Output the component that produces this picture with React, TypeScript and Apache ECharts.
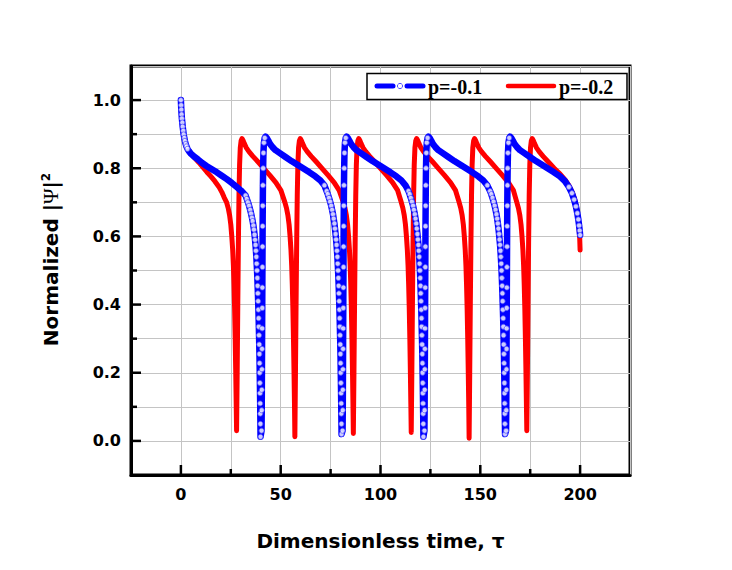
import React, { useEffect, useRef } from "react";
import * as echarts from "echarts";

// p = -0.1 (blue, line + hollow circles), [tau, |psi|^2]
const blueP01: [number, number][] = [
  [0, 1.0], [0.1, 0.985], [0.2, 0.972], [0.35, 0.958], [0.5, 0.946], [0.7, 0.934], [0.9, 0.922], [1.15, 0.91], [1.4, 0.899], [1.7, 0.889], [2.0, 0.88], [2.4, 0.871], [2.8, 0.864], [3.3, 0.857], [4.0, 0.85], [5.0, 0.843], [6.5, 0.835], [8.5, 0.826], [10.5, 0.816], [13.0, 0.806], [15.5, 0.797], [18.0, 0.788], [20.5, 0.778], [23.0, 0.768], [25.5, 0.757], [28.0, 0.745], [30.0, 0.735], [31.2, 0.728],
  [32.4, 0.72], [33.0, 0.71], [33.6, 0.7], [34.15, 0.69], [34.7, 0.678], [35.15, 0.667], [35.6, 0.655], [35.95, 0.645], [36.3, 0.632], [36.6, 0.62], [36.9, 0.605], [37.15, 0.59], [37.4, 0.575], [37.6, 0.558], [37.8, 0.54], [37.98, 0.52], [38.15, 0.5], [38.3, 0.478], [38.45, 0.455], [38.58, 0.433], [38.7, 0.41], [38.83, 0.385], [38.95, 0.36], [39.05, 0.335], [39.15, 0.31], [39.25, 0.283], [39.35, 0.255], [39.43, 0.228], [39.5, 0.2], [39.58, 0.17], [39.65, 0.14], [39.72, 0.11], [39.78, 0.08], [39.84, 0.05], [39.9, 0.012],
  [40.4, 0.03], [40.5, 0.09], [40.55, 0.15], [40.6, 0.21], [40.65, 0.27], [40.7, 0.33], [40.75, 0.39], [40.8, 0.45], [40.85, 0.51], [40.9, 0.57], [40.95, 0.63], [41.02, 0.69], [41.1, 0.75], [41.2, 0.8], [41.35, 0.845], [41.6, 0.875], [42.0, 0.889], [42.4, 0.893],
  [43.0, 0.889], [43.7, 0.882], [44.6, 0.872], [45.9, 0.862], [47.4, 0.853], [49.4, 0.845], [52.4, 0.833], [55.4, 0.821], [58.4, 0.81], [61.4, 0.799], [64.4, 0.788], [67.4, 0.776], [69.9, 0.764], [71.9, 0.75],
  [73.0, 0.733], [73.6, 0.724], [74.2, 0.713], [74.75, 0.702], [75.3, 0.69], [75.75, 0.678], [76.2, 0.665], [76.55, 0.652], [76.9, 0.638], [77.2, 0.623], [77.5, 0.607], [77.75, 0.591], [78.0, 0.575], [78.2, 0.558], [78.4, 0.54], [78.58, 0.52], [78.75, 0.5], [78.9, 0.478], [79.05, 0.455], [79.18, 0.433], [79.3, 0.41], [79.43, 0.385], [79.55, 0.36], [79.65, 0.335], [79.75, 0.31], [79.85, 0.283], [79.95, 0.255], [80.03, 0.228], [80.1, 0.2], [80.18, 0.17], [80.25, 0.14], [80.32, 0.11], [80.38, 0.08], [80.44, 0.05], [80.5, 0.02],
  [81.0, 0.03], [81.1, 0.09], [81.15, 0.15], [81.2, 0.21], [81.25, 0.27], [81.3, 0.33], [81.35, 0.39], [81.4, 0.45], [81.45, 0.51], [81.5, 0.57], [81.55, 0.63], [81.62, 0.69], [81.7, 0.75], [81.8, 0.8], [81.95, 0.845], [82.2, 0.875], [82.6, 0.889], [83.0, 0.893],
  [83.6, 0.889], [84.3, 0.882], [85.2, 0.872], [86.5, 0.862], [88.0, 0.853], [90.0, 0.845], [93.0, 0.833], [96.0, 0.821], [99.0, 0.81], [102.0, 0.799], [105.0, 0.788], [108.0, 0.776], [110.5, 0.764], [112.5, 0.75],
  [114.0, 0.733], [114.6, 0.724], [115.2, 0.713], [115.75, 0.702], [116.3, 0.69], [116.75, 0.678], [117.2, 0.665], [117.55, 0.652], [117.9, 0.638], [118.2, 0.623], [118.5, 0.607], [118.75, 0.591], [119.0, 0.575], [119.2, 0.558], [119.4, 0.54], [119.58, 0.52], [119.75, 0.5], [119.9, 0.478], [120.05, 0.455], [120.18, 0.433], [120.3, 0.41], [120.43, 0.385], [120.55, 0.36], [120.65, 0.335], [120.75, 0.31], [120.85, 0.283], [120.95, 0.255], [121.03, 0.228], [121.1, 0.2], [121.18, 0.17], [121.25, 0.14], [121.32, 0.11], [121.38, 0.08], [121.44, 0.05], [121.5, 0.012],
  [122.0, 0.03], [122.1, 0.09], [122.15, 0.15], [122.2, 0.21], [122.25, 0.27], [122.3, 0.33], [122.35, 0.39], [122.4, 0.45], [122.45, 0.51], [122.5, 0.57], [122.55, 0.63], [122.62, 0.69], [122.7, 0.75], [122.8, 0.8], [122.95, 0.845], [123.2, 0.875], [123.6, 0.889], [124.0, 0.893],
  [124.6, 0.889], [125.3, 0.882], [126.2, 0.872], [127.5, 0.862], [129.0, 0.853], [131.0, 0.845], [134.0, 0.833], [137.0, 0.821], [140.0, 0.81], [143.0, 0.799], [146.0, 0.788], [149.0, 0.776], [151.5, 0.764], [153.5, 0.75],
  [154.9, 0.733], [155.5, 0.724], [156.1, 0.713], [156.65, 0.702], [157.2, 0.69], [157.65, 0.678], [158.1, 0.665], [158.45, 0.652], [158.8, 0.638], [159.1, 0.623], [159.4, 0.607], [159.65, 0.591], [159.9, 0.575], [160.1, 0.558], [160.3, 0.54], [160.48, 0.52], [160.65, 0.5], [160.8, 0.478], [160.95, 0.455], [161.08, 0.433], [161.2, 0.41], [161.33, 0.385], [161.45, 0.36], [161.55, 0.335], [161.65, 0.31], [161.75, 0.283], [161.85, 0.255], [161.93, 0.228], [162.0, 0.2], [162.08, 0.17], [162.15, 0.14], [162.22, 0.11], [162.28, 0.08], [162.34, 0.05], [162.4, 0.02],
  [162.9, 0.03], [163.0, 0.09], [163.05, 0.15], [163.1, 0.21], [163.15, 0.27], [163.2, 0.33], [163.25, 0.39], [163.3, 0.45], [163.35, 0.51], [163.4, 0.57], [163.45, 0.63], [163.52, 0.69], [163.6, 0.75], [163.7, 0.8], [163.85, 0.845], [164.1, 0.875], [164.5, 0.889], [164.9, 0.893],
  [165.5, 0.889], [166.2, 0.882], [167.1, 0.872], [168.4, 0.862], [169.9, 0.853], [171.9, 0.845], [174.9, 0.833], [177.9, 0.821], [180.9, 0.81], [183.9, 0.799], [186.9, 0.788], [189.9, 0.776], [192.4, 0.762], [194.4, 0.745], [195.9, 0.727], [197.0, 0.708], [197.9, 0.688], [198.6, 0.668], [199.1, 0.65], [199.5, 0.632], [199.8, 0.617], [200.0, 0.604],
];

// p = -0.2 (red line), [tau, |psi|^2]
const redP02: [number, number][] = [
  [0, 1.0], [0.3, 0.968], [0.7, 0.935], [1.2, 0.905], [1.8, 0.882], [2.5, 0.866], [3.5, 0.855], [5.0, 0.843], [7.0, 0.83], [9.0, 0.817], [11.0, 0.803], [13.0, 0.789], [15.0, 0.776], [17.0, 0.762], [19.0, 0.746], [20.5, 0.73], [21.7, 0.714],
  [22.9, 0.7], [23.7, 0.683], [24.4, 0.662], [25.0, 0.635], [25.5, 0.6], [25.95, 0.56], [26.3, 0.515], [26.6, 0.46], [26.9, 0.39], [27.2, 0.3], [27.45, 0.21], [27.7, 0.11], [27.9, 0.03],
  [28.2, 0.2], [28.5, 0.4], [28.8, 0.58], [29.1, 0.72], [29.4, 0.81], [29.75, 0.86], [30.15, 0.88], [30.6, 0.887],
  [31.1, 0.882], [31.8, 0.872], [32.8, 0.86], [34.1, 0.849], [36.1, 0.835], [38.6, 0.819], [41.6, 0.799], [44.6, 0.779], [47.6, 0.758], [50.1, 0.735],
  [52.1, 0.7], [52.9, 0.683], [53.6, 0.662], [54.2, 0.635], [54.7, 0.6], [55.15, 0.56], [55.5, 0.515], [55.8, 0.46], [56.1, 0.39], [56.4, 0.3], [56.65, 0.21], [56.9, 0.11], [57.1, 0.012],
  [57.4, 0.2], [57.7, 0.4], [58.0, 0.58], [58.3, 0.72], [58.6, 0.81], [58.95, 0.86], [59.35, 0.88], [59.8, 0.887],
  [60.3, 0.882], [61.0, 0.872], [62.0, 0.86], [63.3, 0.849], [65.3, 0.835], [67.8, 0.819], [70.8, 0.799], [73.8, 0.779], [76.8, 0.758], [79.3, 0.735],
  [81.4, 0.7], [82.2, 0.683], [82.9, 0.662], [83.5, 0.635], [84.0, 0.6], [84.45, 0.56], [84.8, 0.515], [85.1, 0.46], [85.4, 0.39], [85.7, 0.3], [85.95, 0.21], [86.2, 0.11], [86.4, 0.022],
  [86.7, 0.2], [87.0, 0.4], [87.3, 0.58], [87.6, 0.72], [87.9, 0.81], [88.25, 0.86], [88.65, 0.88], [89.1, 0.887],
  [89.6, 0.882], [90.3, 0.872], [91.3, 0.86], [92.6, 0.849], [94.6, 0.835], [97.1, 0.819], [100.1, 0.799], [103.1, 0.779], [106.1, 0.758], [108.6, 0.735],
  [110.4, 0.7], [111.2, 0.683], [111.9, 0.662], [112.5, 0.635], [113.0, 0.6], [113.45, 0.56], [113.8, 0.515], [114.1, 0.46], [114.4, 0.39], [114.7, 0.3], [114.95, 0.21], [115.2, 0.11], [115.4, 0.025],
  [115.7, 0.2], [116.0, 0.4], [116.3, 0.58], [116.6, 0.72], [116.9, 0.81], [117.25, 0.86], [117.65, 0.88], [118.1, 0.887],
  [118.6, 0.882], [119.3, 0.872], [120.3, 0.86], [121.6, 0.849], [123.6, 0.835], [126.1, 0.819], [129.1, 0.799], [132.1, 0.779], [135.1, 0.758], [137.6, 0.735],
  [139.4, 0.7], [140.2, 0.683], [140.9, 0.662], [141.5, 0.635], [142.0, 0.6], [142.45, 0.56], [142.8, 0.515], [143.1, 0.46], [143.4, 0.39], [143.7, 0.3], [143.95, 0.21], [144.2, 0.11], [144.4, 0.008],
  [144.7, 0.2], [145.0, 0.4], [145.3, 0.58], [145.6, 0.72], [145.9, 0.81], [146.25, 0.86], [146.65, 0.88], [147.1, 0.887],
  [147.6, 0.882], [148.3, 0.872], [149.3, 0.86], [150.6, 0.849], [152.6, 0.835], [155.1, 0.819], [158.1, 0.799], [161.1, 0.779], [164.1, 0.758], [166.6, 0.735],
  [168.3, 0.7], [169.1, 0.683], [169.8, 0.662], [170.4, 0.635], [170.9, 0.6], [171.35, 0.56], [171.7, 0.515], [172.0, 0.46], [172.3, 0.39], [172.6, 0.3], [172.85, 0.21], [173.1, 0.11], [173.3, 0.03],
  [173.6, 0.2], [173.9, 0.4], [174.2, 0.58], [174.5, 0.72], [174.8, 0.81], [175.15, 0.86], [175.55, 0.88], [176.0, 0.887],
  [176.5, 0.882], [177.2, 0.872], [178.2, 0.86], [179.5, 0.849], [181.5, 0.835], [184.0, 0.819], [187.0, 0.8], [190.0, 0.783], [192.5, 0.766], [194.5, 0.748], [196.0, 0.73], [197.2, 0.71], [198.2, 0.685], [199.0, 0.655], [199.5, 0.625], [199.8, 0.595], [200.0, 0.56],
];

const X_MIN = -25;
const X_MAX = 225;
const Y_MIN = -0.1;
const Y_MAX = 1.1;
const xMajorTicks = [0, 50, 100, 150, 200];
const xMinorTicks = [25, 75, 125, 175];
const yMajorTicks = [0, 0.2, 0.4, 0.6, 0.8, 1.0];
const yMinorTicks = [0.1, 0.3, 0.5, 0.7, 0.9];
const seriesNames = ["p=-0.1", "p=-0.2"];
const xTitle = "Dimensionless time, \u03c4";

const BLUE = "#0000ff";
const RED = "#ff0000";
const RING = "#5050ff";
const GRIDC = "#c4c4c4";
const SANS = "DejaVu Sans";
const SERIF = "Liberation Serif";
const MAJOR_LEN = 10;
const MINOR_LEN = 6;

// circles are shown where the blue curve is steep (where they appear separated in the figure)
const blueMarkers = blueP01.filter((p, i) => {
  const prev = blueP01[i - 1];
  const next = blueP01[i + 1];
  const s1 = prev ? Math.abs((p[1] - prev[1]) / (p[0] - prev[0])) : 0;
  const s2 = next ? Math.abs((next[1] - p[1]) / (next[0] - p[0])) : 0;
  return Math.max(s1, s2) > 0.012;
});

// inward tick marks: [value, length, axis (0 = x, 1 = y)]
const tickData: [number, number, number][] = [
  ...xMajorTicks.map((v) => [v, MAJOR_LEN, 0] as [number, number, number]),
  ...xMinorTicks.map((v) => [v, MINOR_LEN, 0] as [number, number, number]),
  ...yMajorTicks.map((v) => [v, MAJOR_LEN, 1] as [number, number, number]),
  ...yMinorTicks.map((v) => [v, MINOR_LEN, 1] as [number, number, number]),
];

export default function App() {
  const ref = useRef<HTMLDivElement>(null);
  useEffect(() => {
    if (!ref.current) return;
    const chart = echarts.init(ref.current, undefined, { renderer: "svg" });
    const labelStyle = { fontFamily: SANS, fontWeight: "bold" as const, fontSize: 16, color: "#000" };
    chart.setOption({
      animation: false,
      backgroundColor: "#ffffff",
      grid: {
        left: 131,
        right: 102,
        top: 66,
        bottom: 95,
        show: true,
        borderColor: "#000",
        borderWidth: 3,
        backgroundColor: "transparent",
      },
      xAxis: {
        type: "value",
        position: "bottom",
        min: X_MIN,
        max: X_MAX,
        interval: 25,
        axisLine: { show: true, onZero: false, lineStyle: { color: "#000", width: 3 } },
        axisTick: { show: false },
        axisLabel: { ...labelStyle, margin: 11, customValues: xMajorTicks, formatter: (v: number) => String(v) },
        splitLine: { show: true, lineStyle: { color: GRIDC, width: 1 } },
        name: xTitle,
        nameLocation: "middle",
        nameGap: 56,
        nameTextStyle: { fontFamily: SANS, fontWeight: "bold", fontSize: 20, color: "#000" },
      },
      yAxis: {
        type: "value",
        position: "left",
        min: Y_MIN,
        max: Y_MAX,
        interval: 0.1,
        axisLine: { show: true, onZero: false, lineStyle: { color: "#000", width: 3 } },
        axisTick: { show: false },
        axisLabel: { ...labelStyle, margin: 10, customValues: yMajorTicks, formatter: (v: number) => v.toFixed(1) },
        splitLine: { show: true, lineStyle: { color: GRIDC, width: 1 } },
        name: "{s|}{a|Normalized |}{b|\u03a8}{a||}{c|2}",
        nameLocation: "middle",
        nameRotate: 90,
        nameGap: 70,
        nameTextStyle: {
          rich: {
            s: { width: 22, fontSize: 20 },
            a: { fontFamily: SANS, fontWeight: "bold", fontSize: 20, color: "#000" },
            b: { fontFamily: SERIF, fontWeight: "normal", fontSize: 21, color: "#000" },
            c: { fontFamily: SANS, fontWeight: "bold", fontSize: 12, color: "#000", verticalAlign: "top" },
          },
        },
      },
      series: [
        {
          name: seriesNames[1],
          type: "line",
          data: redP02,
          showSymbol: false,
          symbol: "none",
          z: 2,
          lineStyle: { color: RED, width: 5, cap: "round", join: "round" },
        },
        {
          name: seriesNames[0],
          type: "line",
          data: blueP01,
          showSymbol: false,
          symbol: "none",
          z: 3,
          lineStyle: { color: BLUE, width: 6.5, cap: "round", join: "round" },
        },
        {
          name: seriesNames[0] + " markers",
          type: "scatter",
          data: blueMarkers,
          symbol: "circle",
          symbolSize: 5,
          z: 4,
          itemStyle: { color: "#ffffff", borderColor: RING, borderWidth: 1 },
        },
        {
          name: "ticks",
          type: "custom",
          clip: false,
          silent: true,
          z: 6,
          data: tickData,
          encode: { x: 0 },
          renderItem: (_params: any, api: any) => {
            const v = api.value(0);
            const len = api.value(1);
            const isY = api.value(2) === 1;
            if (isY) {
              const p = api.coord([X_MIN, v]);
              return { type: "line", shape: { x1: p[0], y1: p[1], x2: p[0] + len, y2: p[1] }, style: { stroke: "#000", lineWidth: 2.5 } };
            }
            const p = api.coord([v, Y_MIN]);
            return { type: "line", shape: { x1: p[0], y1: p[1], x2: p[0], y2: p[1] - len }, style: { stroke: "#000", lineWidth: 2.5 } };
          },
        },
      ],
      graphic: [
        { type: "rect", z: 10, shape: { x: 367, y: 73.5, width: 260, height: 26 }, style: { fill: "#fff", stroke: "#000", lineWidth: 1.5 } },
        { type: "line", z: 11, shape: { x1: 377, y1: 86, x2: 393, y2: 86 }, style: { stroke: BLUE, lineWidth: 5, lineCap: "round" } },
        { type: "line", z: 11, shape: { x1: 407, y1: 86, x2: 423, y2: 86 }, style: { stroke: BLUE, lineWidth: 5, lineCap: "round" } },
        { type: "circle", z: 11, shape: { cx: 400, cy: 86, r: 2.6 }, style: { fill: "#fff", stroke: RING, lineWidth: 1 } },
        { type: "text", z: 11, x: 428, y: 87, style: { text: seriesNames[0], fontFamily: SERIF, fontWeight: "bold", fontSize: 20, fill: "#000", verticalAlign: "middle" } },
        { type: "line", z: 11, shape: { x1: 508, y1: 86, x2: 554, y2: 86 }, style: { stroke: RED, lineWidth: 4.5, lineCap: "round" } },
        { type: "text", z: 11, x: 559, y: 87, style: { text: seriesNames[1], fontFamily: SERIF, fontWeight: "bold", fontSize: 20, fill: "#000", verticalAlign: "middle" } },
      ],
    });
    return () => chart.dispose();
  }, []);
  return <div ref={ref} style={{ position: "fixed", left: 0, top: 0, width: 732, height: 570, background: "#fff" }} />;
}
